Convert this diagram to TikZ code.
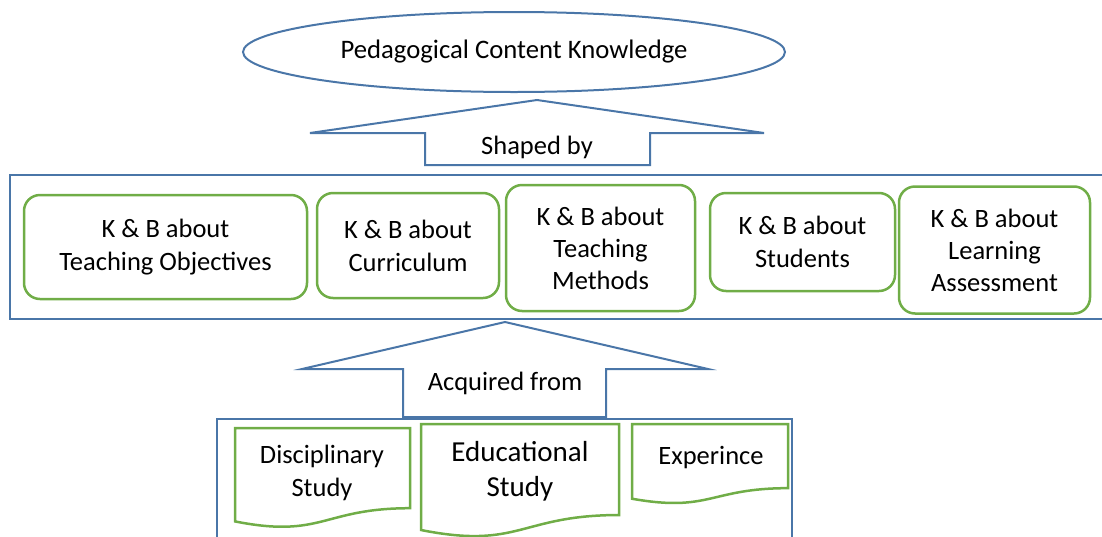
\documentclass[tikz,border=0pt]{standalone}
\usepackage{fontspec}
\setmainfont{Carlito}
\usetikzlibrary{shapes.geometric}
\definecolor{pckblue}{HTML}{4A76A8}
\definecolor{pckgreen}{HTML}{70AD47}
\tikzset{
  blueline/.style={draw=pckblue, line width=2pt},
  kbbox/.style={draw=pckgreen, line width=2.5pt, rounded corners=16pt, align=center, inner sep=0pt, font=\fontsize{26.5}{33}\selectfont},
  doctext/.style={align=center, font=\fontsize{26.5}{33}\selectfont},
}
% document shape: x, y, width, height
\newcommand{\docshape}[4]{
  \draw[draw=pckgreen, line width=2.5pt] (#1,#2)--({#1+#3},#2)--({#1+#3},{#2+0.802*#4}) .. controls ({#1+0.5*#3},{#2+0.802*#4}) and ({#1+0.5*#3},{#2+1.1075*#4}) .. (#1,{#2+0.934*#4})--cycle;
}
\begin{document}
\begin{tikzpicture}[x=1pt,y=-1pt]
\useasboundingbox (0,0) rectangle (1102,536);
\node[ellipse, blueline, minimum width=542, minimum height=80, font=\fontsize{26.7}{30}\selectfont] (pck) at (514,52) {Pedagogical Content Knowledge};
% shaped by
\draw[blueline, fill=white](537,100)--(764,133)--(650,133)--(650,165)--(425,165)--(425,133)--(310,133)--cycle;
\node[doctext] (shaped) at (537,147) {Shaped by};
\draw[blueline](10,175) rectangle (1103,319);
\node[kbbox, minimum width=283, minimum height=104] (objectives) at (165.5,247) {K \& B about\\Teaching Objectives};
\node[kbbox, minimum width=182, minimum height=105] (curriculum) at (408,245.5) {K \& B about\\Curriculum};
\node[kbbox, minimum width=189, minimum height=126, font=\fontsize{26.5}{32}\selectfont] (methods) at (600.5,248) {K \& B about\\Teaching\\Methods};
\node[kbbox, minimum width=185, minimum height=98] (students) at (802.5,242) {K \& B about\\Students};
\node[kbbox, minimum width=191, minimum height=127, font=\fontsize{26.5}{32}\selectfont] (assessment) at (994.5,250) {K \& B about\\Learning\\Assessment};
% acquired from
\draw[blueline, fill=white](505,322)--(708,369)--(606,369)--(606,417)--(403,417)--(403,369)--(302,369)--cycle;
\node[doctext] (acquired) at (505,383) {Acquired from};
\draw[blueline](217,419) rectangle (792,545);
\docshape{235}{428}{175}{100}
\docshape{421}{424}{198}{113.5}
\docshape{632}{424}{156}{80}
\node[doctext] (disciplinary) at (322,473) {Disciplinary\\Study};
\node[doctext, font=\fontsize{29}{35}\selectfont] (educational) at (520,471) {Educational\\Study};
\node[doctext] (experience) at (711,458) {Experince};
\end{tikzpicture}
\end{document}
